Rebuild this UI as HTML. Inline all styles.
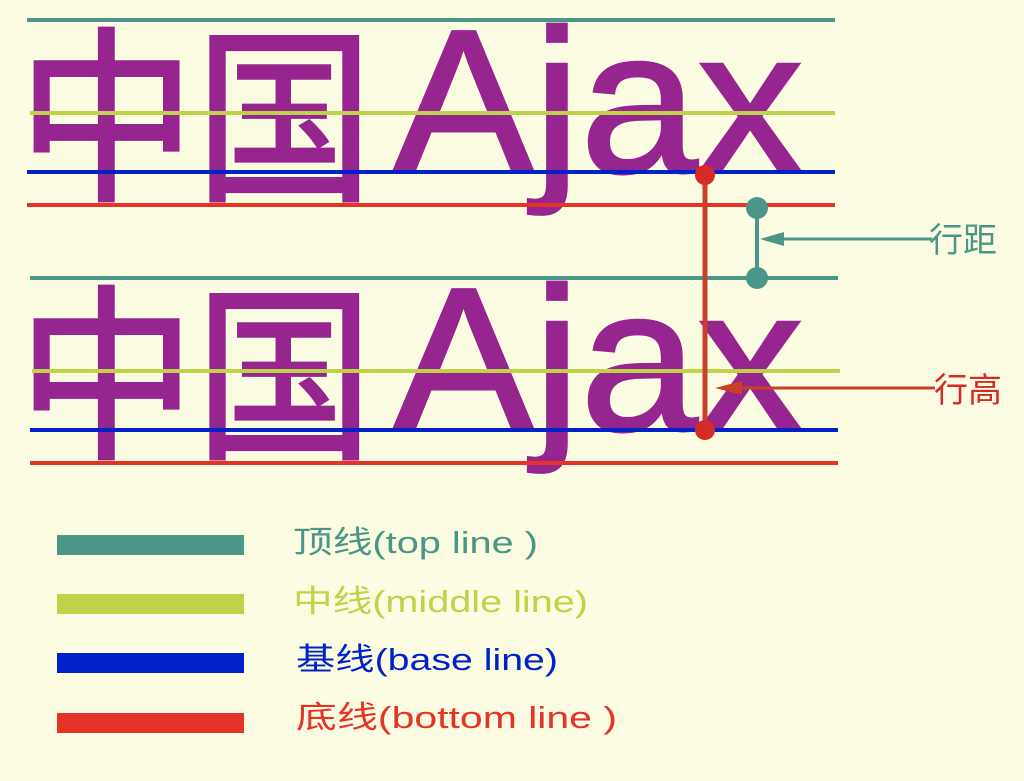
<!DOCTYPE html>
<html><head><meta charset="utf-8"><style>
html,body{margin:0;padding:0;background:#fcfce2;}
svg{display:block}
</style></head><body>
<svg width="1024" height="781" viewBox="0 0 1024 781" xmlns="http://www.w3.org/2000/svg">
<rect width="1024" height="781" fill="#fcfce2"/>
<g font-family="'Liberation Sans','Noto Sans CJK SC',sans-serif" fill="#96258f" stroke="#96258f" stroke-width="3">
  <text x="18" y="186" font-size="188" font-family="'Noto Sans CJK SC',sans-serif" textLength="355" lengthAdjust="spacingAndGlyphs">中国</text>
  <text x="393" y="172" font-size="204" textLength="410" lengthAdjust="spacingAndGlyphs">Ajax</text>
  <text x="18" y="444" font-size="188" font-family="'Noto Sans CJK SC',sans-serif" textLength="355" lengthAdjust="spacingAndGlyphs">中国</text>
  <text x="393" y="430" font-size="204" textLength="410" lengthAdjust="spacingAndGlyphs">Ajax</text>
</g>
<g stroke-width="4">
  <line x1="27" y1="20" x2="835" y2="20" stroke="#4a9688"/>
  <line x1="30" y1="113" x2="835" y2="113" stroke="#bed34a"/>
  <line x1="27" y1="172" x2="835" y2="172" stroke="#0022c8"/>
  <line x1="27" y1="205" x2="835" y2="205" stroke="#e53325"/>
  <line x1="30" y1="278" x2="838" y2="278" stroke="#4a9688"/>
  <line x1="32" y1="371" x2="840" y2="371" stroke="#bed34a"/>
  <line x1="30" y1="430" x2="838" y2="430" stroke="#0022c8"/>
  <line x1="30" y1="463" x2="838" y2="463" stroke="#e53325"/>
</g>
<line x1="705" y1="175" x2="705" y2="430" stroke="#c8402a" stroke-width="5"/>
<circle cx="705" cy="175" r="10" fill="#d62a26"/>
<circle cx="705" cy="430" r="10" fill="#d62a26"/>
<line x1="757" y1="208" x2="757" y2="278" stroke="#4a9688" stroke-width="4"/>
<circle cx="757" cy="208" r="11" fill="#4a9688"/>
<circle cx="757" cy="278" r="11" fill="#4a9688"/>
<line x1="780" y1="239" x2="932" y2="239" stroke="#4a9688" stroke-width="3"/>
<polygon points="760,239 784,232 784,246" fill="#4a9688"/>
<line x1="740" y1="388" x2="935" y2="388" stroke="#c8402a" stroke-width="3"/>
<polygon points="715,388 742,381 742,395" fill="#c8402a"/>
<g font-family="'Noto Sans CJK SC',sans-serif" font-size="34">
  <text x="929" y="252" fill="#4a9688">行距</text>
  <text x="934" y="402" fill="#d62a26">行高</text>
</g>
<rect x="57" y="535" width="187" height="20" fill="#4a9688"/>
<rect x="57" y="594" width="187" height="20" fill="#bed34a"/>
<rect x="57" y="653" width="187" height="20" fill="#0022c8"/>
<rect x="57" y="713" width="187" height="20" fill="#e53325"/>
<g font-family="'Liberation Sans','Noto Sans CJK SC',sans-serif" font-size="31">
  <text x="293" y="553" fill="#4a9688" textLength="245" lengthAdjust="spacingAndGlyphs">顶线(top line )</text>
  <text x="293" y="612" fill="#bed34a" textLength="295" lengthAdjust="spacingAndGlyphs">中线(middle line)</text>
  <text x="296" y="670" fill="#0022c8" textLength="262" lengthAdjust="spacingAndGlyphs">基线(base line)</text>
  <text x="296" y="728" fill="#e53325" textLength="321" lengthAdjust="spacingAndGlyphs">底线(bottom line )</text>
</g>
</svg>
</body></html>
